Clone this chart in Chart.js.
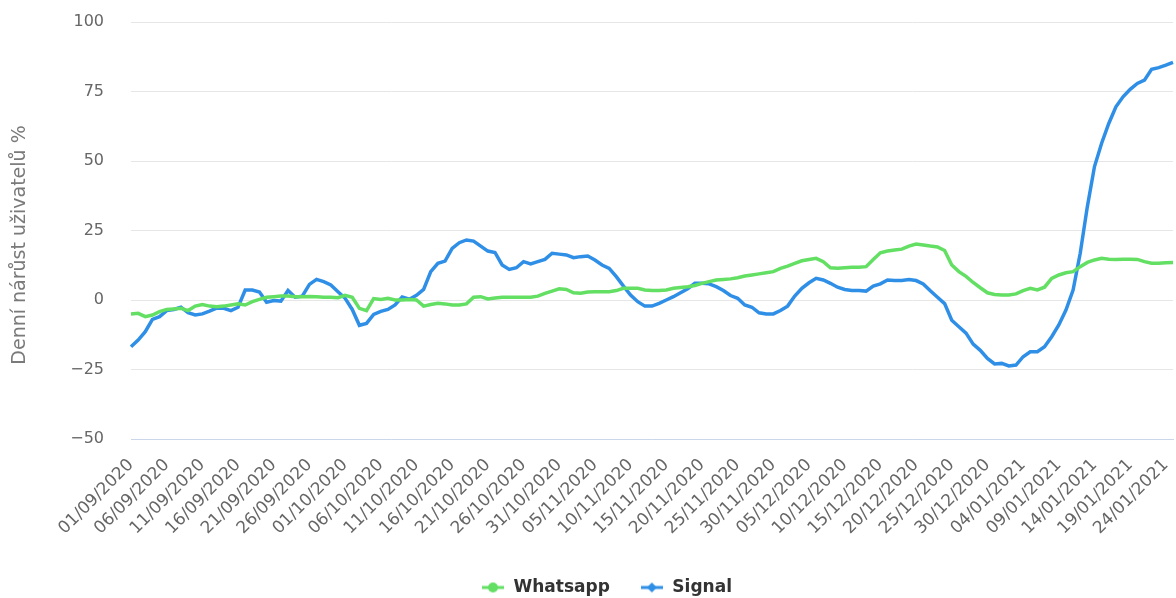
<!DOCTYPE html>
<html>
<head>
<meta charset="utf-8">
<script src="https://cdn.jsdelivr.net/npm/chart.js@4"></script>
<style>
  html, body { margin: 0; padding: 0; background: #fff; }
  #wrap { width: 1176px; height: 598px; }
</style>
</head>
<body>
<div id="wrap"><canvas id="growthChart"></canvas></div>
<script>
// denní data od 01/09/2020 do 25/01/2021
const startDate = new Date(2020, 8, 1);
const dayCount = 147;
const categories = [];
for (let i = 0; i < dayCount; i++) {
    const d = new Date(startDate.getFullYear(), startDate.getMonth(), startDate.getDate() + i);
    const dd = String(d.getDate()).padStart(2, '0');
    const mm = String(d.getMonth() + 1).padStart(2, '0');
    categories.push(dd + '/' + mm + '/' + d.getFullYear());
}

const whatsapp = [
    -5.0, -4.8, -6.0, -5.4, -4.2, -3.4, -3.2, -3.0, -3.8, -2.2,
    -1.6, -2.2, -2.4, -2.2, -1.8, -1.4, -1.8, -0.6, 0.2, 1.0,
    1.2, 1.4, 1.4, 1.2, 1.2, 1.3, 1.2, 1.0, 1.0, 0.8,
    1.7, 1.0, -3.0, -3.8, 0.5, 0.2, 0.6, 0.0, 0.0, 0.2,
    0.0, -2.2, -1.6, -1.2, -1.4, -1.8, -1.8, -1.4, 1.0, 1.2,
    0.4, 0.7, 1.0, 1.0, 1.0, 1.0, 1.0, 1.4, 2.4, 3.2,
    4.0, 3.8, 2.6, 2.4, 2.9, 3.0, 3.0, 3.0, 3.4, 4.2,
    4.2, 4.2, 3.6, 3.4, 3.4, 3.6, 4.2, 4.5, 4.8, 5.2,
    6.0, 6.6, 7.2, 7.4, 7.6, 8.0, 8.6, 9.0, 9.4, 9.8,
    10.2, 11.4, 12.2, 13.2, 14.1, 14.6, 15.0, 13.8, 11.6, 11.4,
    11.6, 11.8, 11.8, 12.0, 14.6, 17.0, 17.6, 18.0, 18.3, 19.4,
    20.1, 19.8, 19.4, 19.1, 17.8, 12.6, 10.2, 8.5, 6.3, 4.4,
    2.6, 2.0, 1.8, 1.8, 2.2, 3.4, 4.2, 3.6, 4.6, 7.8,
    9.0, 9.8, 10.2, 12.0, 13.5, 14.4, 15.0, 14.7, 14.6, 14.7,
    14.7, 14.6, 13.8, 13.2, 13.2, 13.4, 13.5
];

const signal = [
    -16.8, -14.4, -11.4, -7.0, -6.0, -3.8, -3.4, -2.6, -4.6, -5.4,
    -5.0, -4.0, -2.9, -3.0, -3.8, -2.6, 3.6, 3.6, 2.9, -0.8,
    -0.2, -0.4, 3.4, 1.0, 1.4, 5.6, 7.4, 6.6, 5.4, 3.0,
    0.6, -3.4, -9.1, -8.4, -5.2, -4.1, -3.4, -1.8, 1.1, 0.3,
    1.7, 3.8, 10.2, 13.2, 14.0, 18.6, 20.6, 21.6, 21.2, 19.4,
    17.6, 17.1, 12.6, 11.0, 11.6, 13.8, 13.0, 13.8, 14.6, 16.8,
    16.5, 16.2, 15.2, 15.6, 15.8, 14.4, 12.6, 11.4, 8.4, 5.0,
    1.8, -0.6, -2.2, -2.2, -1.2, 0.0, 1.2, 2.6, 4.0, 6.0,
    6.0, 5.8, 4.8, 3.4, 1.6, 0.6, -1.8, -2.6, -4.6, -5.0,
    -5.0, -3.8, -2.2, 1.4, 4.2, 6.2, 7.8, 7.2, 6.0, 4.6,
    3.8, 3.4, 3.4, 3.2, 5.0, 5.8, 7.2, 7.0, 7.0, 7.4,
    7.0, 5.8, 3.3, 1.0, -1.3, -7.3, -9.6, -11.9, -15.9, -18.1,
    -21.0, -23.0, -22.8, -23.7, -23.4, -20.4, -18.6, -18.6, -16.8, -13.2,
    -9.0, -3.6, 3.6, 16.8, 33.6, 48.0, 56.4, 63.5, 69.5, 73.1,
    75.8, 77.9, 79.1, 83.0, 83.6, 84.5, 85.5
];

const seriesNames = ['Whatsapp', 'Signal'];
const seriesColors = ['#63df63', '#2f8fe6'];
const yTicks = [-50, -25, 0, 25, 50, 75, 100];
const yTitle = 'Denní nárůst uživatelů %';

// symbol legendy: čára s bodem (kruh / kosočtverec)
function legendSymbol(color, shape) {
    const c = document.createElement('canvas');
    c.width = 22;
    c.height = 12;
    const g = c.getContext('2d');
    g.strokeStyle = color;
    g.lineWidth = 3;
    g.beginPath();
    g.moveTo(0, 6);
    g.lineTo(22, 6);
    g.stroke();
    g.fillStyle = color;
    g.beginPath();
    if (shape === 'circle') {
        g.arc(11, 6, 5, 0, Math.PI * 2);
    } else {
        g.moveTo(11, 1);
        g.lineTo(16, 6);
        g.lineTo(11, 11);
        g.lineTo(6, 6);
        g.closePath();
    }
    g.fill();
    return c;
}
const symbols = [legendSymbol(seriesColors[0], 'circle'), legendSymbol(seriesColors[1], 'diamond')];

// titulek osy Y kreslený ručně, aby seděl na výšku
const yTitlePlugin = {
    id: 'yTitlePlugin',
    afterDraw(chart) {
        const ctx = chart.ctx;
        ctx.save();
        ctx.translate(20, 245);
        ctx.rotate(-Math.PI / 2);
        ctx.font = '19px "DejaVu Sans"';
        ctx.fillStyle = '#7a7a7a';
        ctx.textAlign = 'center';
        ctx.textBaseline = 'middle';
        ctx.fillText(yTitle, 0, 0);
        ctx.restore();
    }
};

new Chart(document.getElementById('growthChart'), {
    type: 'line',
    data: {
        labels: categories,
        datasets: [
            {
                label: seriesNames[0],
                data: whatsapp,
                borderColor: seriesColors[0],
                backgroundColor: seriesColors[0],
                borderWidth: 3.5,
                pointRadius: 0,
                tension: 0
            },
            {
                label: seriesNames[1],
                data: signal,
                borderColor: seriesColors[1],
                backgroundColor: seriesColors[1],
                borderWidth: 3.5,
                pointRadius: 0,
                tension: 0
            }
        ]
    },
    options: {
        responsive: true,
        maintainAspectRatio: false,
        animation: false,
        layout: { padding: { top: 22, right: 3, bottom: -8, left: 40 } },
        plugins: {
            tooltip: { enabled: false },
            legend: {
                position: 'bottom',
                labels: {
                    usePointStyle: true,
                    pointStyleWidth: 24,
                    padding: 30,
                    color: '#333',
                    font: { family: '"DejaVu Sans"', size: 17, weight: 'bold' },
                    generateLabels(chart) {
                        const items = Chart.defaults.plugins.legend.labels.generateLabels(chart);
                        items.forEach((it, i) => { it.pointStyle = symbols[i]; });
                        return items;
                    }
                }
            }
        },
        scales: {
            x: {
                grid: { display: false, drawTicks: false },
                border: { display: true, color: '#ccd6eb', width: 1 },
                ticks: {
                    autoSkip: false,
                    maxRotation: 45,
                    minRotation: 45,
                    padding: 16,
                    color: '#666',
                    font: { family: '"DejaVu Sans"', size: 17 },
                    callback: (v, i) => (i % 5 === 0 ? categories[i] : '')
                },
                afterFit(scale) {
                    scale.height = 110;
                    scale.paddingLeft = 0;
                    scale.paddingRight = 0;
                }
            },
            y: {
                min: -50,
                max: 100,
                afterBuildTicks(scale) { scale.ticks = yTicks.map(v => ({ value: v })); },
                grid: { color: '#e6e6e6', drawTicks: false },
                border: { display: false },
                ticks: {
                    padding: 27,
                    color: '#666',
                    font: { family: '"DejaVu Sans"', size: 16 },
                    callback: v => String(v).replace('-', '\u2212')
                },
                afterFit(scale) {
                    scale.width = 91;
                    scale.paddingTop = 0;
                    scale.paddingBottom = 0;
                }
            }
        }
    },
    plugins: [yTitlePlugin]
});
</script>
</body>
</html>
